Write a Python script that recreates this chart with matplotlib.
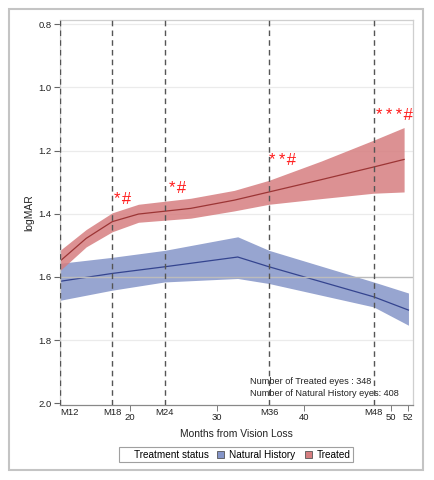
import numpy as np
import matplotlib.pyplot as plt
from matplotlib.patches import Patch, Rectangle

plt.rcParams['font.family'] = ['Liberation Sans', 'DejaVu Sans']

# treated eyes: months, mean logMAR and band limits
months_t = [12, 15, 18, 21, 27, 32, 36, 42, 48, 51.5]
mean_t = [1.550, 1.478, 1.425, 1.401, 1.383, 1.357, 1.331, 1.292, 1.252, 1.228]
upper_t = [1.516, 1.450, 1.397, 1.370, 1.351, 1.326, 1.294, 1.233, 1.167, 1.127]
lower_t = [1.580, 1.505, 1.457, 1.427, 1.414, 1.391, 1.370, 1.352, 1.335, 1.331]

# natural history eyes
months_n = [12, 18, 24, 32.4, 36, 48, 52]
mean_n = [1.614, 1.589, 1.568, 1.537, 1.568, 1.663, 1.705]
upper_n = [1.557, 1.538, 1.516, 1.473, 1.516, 1.616, 1.651]
lower_n = [1.674, 1.642, 1.616, 1.605, 1.621, 1.695, 1.753]

ref_months = [12, 18, 24, 36, 48]
ref_labels = ['M12', 'M18', 'M24', 'M36', 'M48']
num_ticks = [20, 30, 40, 50, 52]
y_ticks = [0.8, 1.0, 1.2, 1.4, 1.6, 1.8, 2.0]

sig_months = [18.2, 24.5, 36.0, 48.3]
sig_values = [1.355, 1.320, 1.232, 1.090]
sig_labels = ['*\u200a#', '*\u200a#', '*\u2009*\u200a#', '*\u2009*\u2009*\u200a#']

n_treated = 348
n_natural = 408

red_fill = '#d67e80'
red_line = '#9c3535'
blue_fill = '#8595c8'
blue_line = '#34448f'

fig = plt.figure(figsize=(4.35, 4.8), dpi=100)
ax = fig.add_axes([0.138, 0.156, 0.811, 0.802])

for y in y_ticks[:-1]:
    if y != 1.6:
        ax.axhline(y, color='#ebebeb', lw=0.9, zorder=0)

ax.fill_between(months_n, upper_n, lower_n, color=blue_fill, alpha=0.85, lw=0, zorder=1)
ax.plot(months_n, mean_n, color=blue_line, lw=0.9, zorder=2)
ax.fill_between(months_t, upper_t, lower_t, color=red_fill, alpha=0.85, lw=0, zorder=1)
ax.plot(months_t, mean_t, color=red_line, lw=0.9, zorder=2)

ax.axhline(1.6, color='#bcbcbc', lw=1.0, zorder=3)

for m in ref_months:
    ax.axvline(m, color='#555555', lw=1.0, ls=(0, (4, 3)), zorder=4)

for m, v, s in zip(sig_months, sig_values, sig_labels):
    ax.text(m, v, s, color='#ff1a1a', fontsize=12, ha='left', va='center', zorder=5,
            family=['Liberation Sans', 'DejaVu Sans'])

ax.text(0.538, 0.062, 'Number of Treated eyes : %d' % n_treated,
        transform=ax.transAxes, fontsize=6.6, va='center', ha='left', color='#222222')
ax.text(0.538, 0.029, 'Number of Natural History eyes: %d' % n_natural,
        transform=ax.transAxes, fontsize=6.6, va='center', ha='left', color='#222222')

ax.set_xlim(12, 52.5)
ax.set_ylim(2.006, 0.787)

ax.set_yticks(y_ticks)
ax.set_yticklabels(['%.1f' % y for y in y_ticks])
ax.set_xticks(ref_months)
ax.set_xticklabels(ref_labels)
ax.set_xticks(num_ticks, minor=True)
ax.set_xticklabels([str(t) for t in num_ticks], minor=True)
ax.get_xticklabels()[0].set_horizontalalignment('left')

ax.tick_params(axis='y', labelsize=6.8, length=4, color='#666666', pad=2, labelcolor='#222222')
ax.tick_params(axis='x', which='major', labelsize=6.8, length=0, pad=2, labelcolor='#222222')
ax.tick_params(axis='x', which='minor', labelsize=6.8, length=4, color='#666666', pad=2,
               labelcolor='#222222')

for side in ['top', 'right', 'left']:
    ax.spines[side].set_color('#cfcfcf')
    ax.spines[side].set_linewidth(0.9)
ax.spines['bottom'].set_color('#888888')
ax.spines['bottom'].set_linewidth(0.9)

ax.set_xlabel('Months from Vision Loss', fontsize=7.4, labelpad=5, color='#222222')
ax.set_ylabel('logMAR', fontsize=7.4, labelpad=3, color='#222222')

handles = [Patch(facecolor='none', edgecolor='none'),
           Patch(facecolor=blue_fill, edgecolor='#555555', lw=0.6),
           Patch(facecolor=red_fill, edgecolor='#555555', lw=0.6)]
labels = ['Treatment status', 'Natural History', 'Treated']
leg = fig.legend(handles, labels, loc='center', bbox_to_anchor=(0.5425, 0.053), ncol=3,
                 fontsize=7.2, frameon=True, fancybox=False, edgecolor='#888888',
                 handlelength=0.7, handleheight=0.7, handletextpad=0.5, columnspacing=0.9,
                 borderpad=0.25, borderaxespad=0)
leg.get_frame().set_linewidth(0.8)
leg.legend_handles[0].set_visible(False)

fig.patches.append(Rectangle((9 / 435, 10 / 480), 414 / 435, 461 / 480, transform=fig.transFigure,
                             fill=False, edgecolor='#c4c4c4', lw=1.5))

fig.savefig('out.png', dpi=100)
